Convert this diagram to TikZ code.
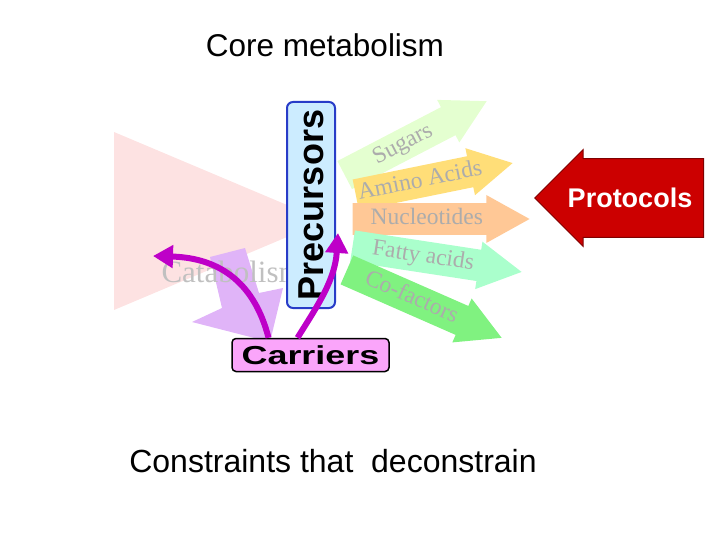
\documentclass[tikz,border=0pt]{standalone}
\usepackage{fontspec}
\setmainfont{Liberation Sans}
\newfontfamily\timesfont{Liberation Serif}
\usepackage{graphicx}
\usepackage{tikz}
\usetikzlibrary{arrows.meta}
\usetikzlibrary{shapes.arrows}

\definecolor{catapink}{RGB}{253,226,226}
\definecolor{cataviolet}{RGB}{224,180,248}
\definecolor{catagray}{RGB}{192,192,192}
\definecolor{precblue}{RGB}{204,236,255}
\definecolor{precborder}{RGB}{40,60,200}
\definecolor{sugargreen}{RGB}{228,255,208}
\definecolor{aminoyellow}{RGB}{255,222,120}
\definecolor{nucleopeach}{RGB}{255,200,150}
\definecolor{fattymint}{RGB}{170,255,204}
\definecolor{cofactgreen}{RGB}{128,242,128}
\definecolor{fangray}{RGB}{172,172,172}
\definecolor{carrierpink}{RGB}{250,165,250}
\definecolor{magentaline}{RGB}{190,0,200}
\definecolor{protored}{RGB}{204,0,0}
\definecolor{protoborder}{RGB}{128,0,0}

\begin{document}
\begin{tikzpicture}[x=1pt, y=-1pt,
				   fanarrow/.style={single arrow, single arrow tip angle=58, minimum width=48pt,
				                    inner xsep=0pt, inner ysep=3pt, text height=16pt, text depth=5pt,
				                    font=\timesfont\fontsize{23.5}{23.5}\selectfont, text=fangray, anchor=tip},
				   carrierarrow/.style={draw=magentaline, line width=6pt, -{Triangle[length=20pt,width=22pt]}}]
\useasboundingbox (0,0) rectangle (720,540);
\node[font=\fontsize{31.5}{32}\selectfont, anchor=base] (title) at (325,57) {Core metabolism};

% catabolism
\fill[catapink] (114,132) -- (325,221) -- (114,310) -- cycle;
\fill[cataviolet] (210,257) -- (245,248) -- (259,293) -- (283,288) -- (270,342) -- (192,322) -- (222,308) -- cycle;
\node[anchor=base west, text=catagray, font=\timesfont\fontsize{31}{31}\selectfont] (catabolism) at (158,282) {Catabolism};

\node[rotate=90, draw=precborder, line width=2pt, fill=precblue, rounded corners=6pt,
      minimum width=206pt, minimum height=48pt, font=\bfseries\fontsize{36}{36}\selectfont] (precursors) at (311,205) {Precursors};

% products
\node[fanarrow, fill=sugargreen, rotate=27.5, minimum height=160pt] (sugars) at (487,101) {Sugars};
\node[fanarrow, fill=aminoyellow, rotate=11.5, minimum height=160pt] (amino) at (513,163) {Amino Acids};
\node[fanarrow, fill=nucleopeach, minimum height=177pt] (nucleo) at (530,219) {Nucleotides};
\node[fanarrow, fill=fattymint, rotate=-8.7, minimum height=171pt] (fatty) at (522,272) {Fatty acids};
\node[fanarrow, fill=cofactgreen, rotate=-23.7, minimum height=169pt] (cofact) at (502,338) {Co-factors};

\node[draw=black, line width=1.5pt, fill=carrierpink, rounded corners=4pt,
      minimum width=157pt, minimum height=33pt, font=\bfseries\fontsize{26}{26}\selectfont] (carriers) at (310.5,355) {\scalebox{1.38}[1]{Carriers}};

\coordinate (cataout) at (153,256);
\coordinate (precin) at (338,233);
\draw[carrierarrow] ([xshift=-42pt]carriers.north) .. controls (255,285) and (222,258) .. (cataout);
\draw[carrierarrow] ([xshift=-13pt]carriers.north) .. controls (318,305) and (335,280) .. (precin);

% protocols
\node[single arrow, shape border rotate=180, draw=protoborder, line width=1pt, fill=protored,
      minimum height=169pt, minimum width=97pt, inner xsep=0pt, inner ysep=30.5pt,
      text height=0pt, text depth=0pt, anchor=tip] (protocols) at (534,198) {};
\node[text=white, font=\bfseries\fontsize{27}{27}\selectfont] (protolabel) at ([xshift=96pt]protocols.tip) {Protocols};

\node[font=\fontsize{32}{32}\selectfont, anchor=base] (constraints) at (333,472) {Constraints that~ deconstrain};
\end{tikzpicture}
\end{document}
